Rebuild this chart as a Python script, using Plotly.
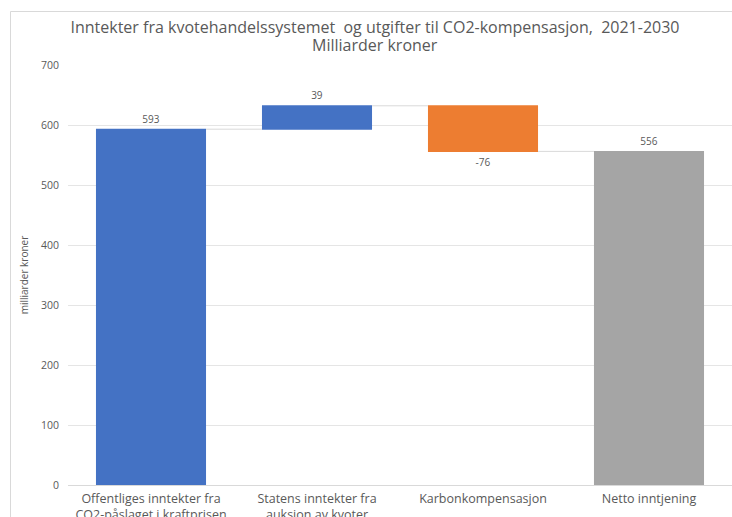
import plotly.graph_objects as go

categories = ["Offentliges inntekter fra<br>CO2-påslaget i kraftprisen",
              "Statens inntekter fra<br>auksjon av kvoter",
              "Karbonkompensasjon",
              "Netto inntjening"]
values = [593, 39, -76, 556]
measures = ["relative", "relative", "relative", "total"]
labels = ["593", "39", "-76", "556"]
y_ticks = [0, 100, 200, 300, 400, 500, 600, 700]
title_line1 = "Inntekter fra kvotehandelssystemet  og utgifter til CO2-kompensasjon,  2021-2030"
title_line2 = "Milliarder kroner"

FONT = "Open Sans"
GREY_TXT = "#595959"

W, H = 732, 517
L, R, T, B = 68, 0, 65, 32
PW, PH = W - L - R, H - T - B

fig = go.Figure(go.Waterfall(
    x=categories,
    y=values,
    measure=measures,
    text=labels,
    textposition="outside",
    textfont=dict(family=FONT, size=10, color=GREY_TXT),
    increasing=dict(marker=dict(color="#4472C4")),
    decreasing=dict(marker=dict(color="#ED7D31")),
    totals=dict(marker=dict(color="#A5A5A5")),
    connector=dict(line=dict(color="#D9D9D9", width=1), mode="between"),
    cliponaxis=False,
))

fig.update_layout(
    width=W, height=H,
    margin=dict(l=L, r=R, t=T, b=B, autoexpand=False),
    paper_bgcolor="white", plot_bgcolor="white",
    waterfallgap=0.337,
    showlegend=False,
    title=dict(
        text=title_line1,
        x=375 / W, xref="container", xanchor="center",
        y=1 - 27 / H, yref="container", yanchor="middle",
        font=dict(family=FONT, size=16, color=GREY_TXT),
    ),
    annotations=[dict(
        text=title_line2, xref="paper", yref="paper",
        x=(375 - L) / PW, y=1 + (T - 45) / PH, xanchor="center", yanchor="middle",
        showarrow=False, font=dict(family=FONT, size=16, color=GREY_TXT),
    )],
    font=dict(family=FONT, color=GREY_TXT),
    xaxis=dict(
        tickfont=dict(family=FONT, size=12.5, color=GREY_TXT),
        showgrid=False, showline=False, ticks="",
        ticklabelstandoff=4,
        automargin=False,
    ),
    yaxis=dict(
        range=[0, 700],
        tickvals=y_ticks,
        tickfont=dict(family=FONT, size=10.5, color=GREY_TXT),
        showgrid=True, gridcolor="#E5E5E5", gridwidth=1,
        zeroline=True, zerolinecolor="#D9D9D9", zerolinewidth=1,
        showline=False, ticks="", ticklabelstandoff=8,
        automargin=False,
        title=dict(text="milliarder kroner", font=dict(family=FONT, size=10, color=GREY_TXT), standoff=10),
    ),
    shapes=[
        dict(type="line", xref="paper", yref="paper",
             x0=(10.5 - L) / PW, x1=(10.5 - L) / PW, y0=-0.2, y1=1 + (T - 11.5) / PH,
             line=dict(color="#D9D9D9", width=1), layer="below"),
        dict(type="line", xref="paper", yref="paper",
             x0=(10.5 - L) / PW, x1=1.05, y0=1 + (T - 11.5) / PH, y1=1 + (T - 11.5) / PH,
             line=dict(color="#D9D9D9", width=1), layer="below"),
    ],
)

fig.write_html("out.html", config={"displayModeBar": False},
               post_script="document.body.style.margin='0';document.body.style.overflow='hidden';")
